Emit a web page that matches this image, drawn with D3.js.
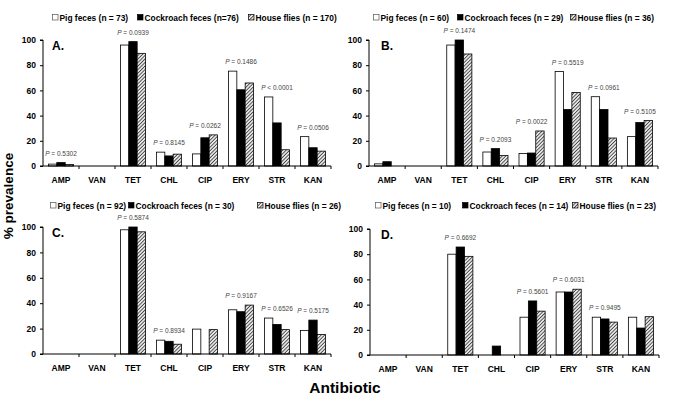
<!DOCTYPE html>
<html>
<head>
<meta charset="utf-8">
<script src="https://cdn.jsdelivr.net/npm/d3@7/dist/d3.min.js"></script>
<style>
  html, body { margin: 0; padding: 0; background: #fff; }
  svg { display: block; font-family: "Liberation Sans", Arial, sans-serif; }
</style>
</head>
<body>
<svg id="chart" width="685" height="415"></svg>
<script>
// ---------- DATA ----------
const categories = ["AMP", "VAN", "TET", "CHL", "CIP", "ERY", "STR", "KAN"];
const seriesKeys = ["pig", "cockroach", "flies"];
const yTicks = [0, 20, 40, 60, 80, 100];
const panelLetters = ["A.", "B.", "C.", "D."];

const legendA = ["Pig feces (n = 73)", "Cockroach feces (n=76)", "House flies (n = 170)"];
const legendB = ["Pig feces (n = 60)", "Cockroach feces (n = 29)", "House flies (n = 36)"];
const legendC = ["Pig feces (n = 92)", "Cockroach feces (n = 30)", "House flies (n = 26)"];
const legendD = ["Pig feces (n = 10)", "Cockroach feces (n = 14)", "House flies (n = 23)"];

const pigA   = [1.5, 0, 96.0, 11.0, 9.6, 75.3, 54.8, 23.3];
const cockA  = [2.7, 0, 98.7, 8.0, 22.4, 60.5, 34.2, 14.5];
const fliesA = [1.2, 0, 89.4, 9.4, 24.7, 65.9, 12.9, 11.8];
const pA     = ["= 0.5302", null, "= 0.0939", "= 0.8145", "= 0.0262", "= 0.1486", "< 0.0001", "= 0.0506"];

const pigB   = [1.7, 0, 96.0, 11.1, 10.0, 75.0, 55.0, 23.3];
const cockB  = [3.4, 0, 100, 13.8, 10.3, 44.8, 44.8, 34.5];
const fliesB = [0, 0, 88.9, 8.3, 27.8, 58.3, 22.2, 36.1];
const pB     = [null, null, "= 0.1474", "= 0.2093", "= 0.0022", "= 0.5519", "= 0.0961", "= 0.5105"];

const pigC   = [0, 0, 97.8, 10.9, 19.6, 34.8, 28.3, 18.5];
const cockC  = [0, 0, 100, 10.0, 0, 33.3, 23.3, 26.7];
const fliesC = [0, 0, 96.2, 7.7, 19.2, 38.5, 19.2, 15.4];
const pC     = [null, null, "= 0.5874", "= 0.8934", null, "= 0.9167", "= 0.6526", "= 0.5175"];

const pigD   = [0, 0, 80.0, 0, 30.0, 50.0, 30.0, 30.0];
const cockD  = [0, 0, 85.7, 7.1, 42.9, 50.0, 28.6, 21.4];
const fliesD = [0, 0, 78.3, 0, 34.8, 52.2, 26.1, 30.4];
const pD     = [null, null, "= 0.6692", null, "= 0.5601", "= 0.6031", "= 0.9495", null];

// ---------- LAYOUT ----------
const panels = [
  { pig: pigA, cock: cockA, flies: fliesA, p: pA, legend: legendA, letter: panelLetters[0],
    x0: 43, x1: 331, yTop: 40, yBot: 166, legendY: 21, legendX: [52, 137, 248], letterX: 52 },
  { pig: pigB, cock: cockB, flies: fliesB, p: pB, legend: legendB, letter: panelLetters[1],
    x0: 369, x1: 658, yTop: 40, yBot: 166, legendY: 21, legendX: [373, 457, 570], letterX: 381 },
  { pig: pigC, cock: cockC, flies: fliesC, p: pC, legend: legendC, letter: panelLetters[2],
    x0: 43, x1: 331, yTop: 227, yBot: 354, legendY: 209, legendX: [50, 128, 257], letterX: 52 },
  { pig: pigD, cock: cockD, flies: fliesD, p: pD, legend: legendD, letter: panelLetters[3],
    x0: 370, x1: 659, yTop: 229, yBot: 355, legendY: 209, legendX: [375, 462, 572], letterX: 381 }
];

const svg = d3.select("#chart");

// hatch pattern
const defs = svg.append("defs");
const pat = defs.append("pattern")
  .attr("id", "hatch").attr("patternUnits", "userSpaceOnUse")
  .attr("width", 2.5).attr("height", 2.5)
  .attr("patternTransform", "rotate(45)");
pat.append("rect").attr("width", 2.5).attr("height", 2.5).attr("fill", "#e6e6e6");
pat.append("line").attr("x1", 0).attr("y1", 0).attr("x2", 0).attr("y2", 2.5)
  .attr("stroke", "#222").attr("stroke-width", 1.4);

const fills = { pig: "#ffffff", cockroach: "#000000", flies: "url(#hatch)" };

panels.forEach(P => {
  const g = svg.append("g");
  const x = d3.scaleBand().domain(categories).range([P.x0, P.x1]).paddingInner(0).paddingOuter(0);
  const x1 = d3.scaleBand().domain(seriesKeys).range([5.5, x.bandwidth() - 5.5]).padding(0);
  const y = d3.scaleLinear().domain([0, 100]).range([P.yBot, P.yTop]);

  const rows = categories.map((c, i) => ({
    cat: c, pig: P.pig[i], cockroach: P.cock[i], flies: P.flies[i], p: P.p[i]
  }));

  // bars
  const grp = g.selectAll("g.cat").data(rows).enter().append("g")
    .attr("transform", d => `translate(${x(d.cat)},0)`);
  grp.selectAll("rect")
    .data(d => seriesKeys.map(k => ({ key: k, v: d[k] })).filter(e => e.v > 0))
    .enter().append("rect")
    .attr("x", d => x1(d.key))
    .attr("y", d => y(d.v))
    .attr("width", x1.bandwidth())
    .attr("height", d => y(0) - y(d.v))
    .attr("fill", d => fills[d.key])
    .attr("stroke", "#000").attr("stroke-width", 0.8);

  // p labels
  rows.filter(d => d.p).forEach(d => {
    const mx = d3.max(seriesKeys, k => d[k]);
    const t = g.append("text")
      .attr("x", x(d.cat) + x.bandwidth() / 2)
      .attr("y", y(mx) - 7)
      .attr("text-anchor", "middle")
      .attr("font-size", 6.5)
      .attr("fill", "#444");
    t.append("tspan").attr("font-style", "italic").text("P");
    t.append("tspan").text(" " + d.p);
  });

  // y axis
  const ya = g.append("g").attr("transform", `translate(${P.x0},0)`)
    .call(d3.axisLeft(y).tickValues(yTicks).tickSize(3).tickPadding(4));
  ya.select(".domain").attr("stroke", "#000").attr("stroke-width", 1).attr("d", `M-3,${P.yBot}H0V${P.yTop}H-3`);
  ya.selectAll(".tick line").attr("stroke", "#000");
  ya.selectAll(".tick text").attr("font-size", 8.5).attr("font-weight", "bold").attr("fill", "#000")
    .attr("font-family", "Liberation Sans, Arial, sans-serif");

  // x axis with ticks between categories
  const xa = g.append("g").attr("transform", `translate(0,${P.yBot})`);
  xa.append("line").attr("x1", P.x0).attr("x2", P.x1).attr("y1", 0).attr("y2", 0)
    .attr("stroke", "#000").attr("stroke-width", 1);
  xa.selectAll("line.tk").data(categories).enter().append("line")
    .attr("x1", d => x(d) + x.bandwidth()).attr("x2", d => x(d) + x.bandwidth())
    .attr("y1", 0).attr("y2", 3).attr("stroke", "#000");
  xa.selectAll("text").data(categories).enter().append("text")
    .attr("x", d => x(d) + x.bandwidth() / 2).attr("y", 17)
    .attr("text-anchor", "middle").attr("font-size", 8.5).attr("font-weight", "bold")
    .text(d => d);

  // panel letter
  g.append("text").attr("x", P.letterX).attr("y", P.yTop + 10)
    .attr("font-size", 12).attr("font-weight", "bold").text(P.letter);

  // legend
  seriesKeys.forEach((k, i) => {
    const lx = P.legendX[i];
    g.append("rect").attr("x", lx + 0.5).attr("y", P.legendY - 6.5)
      .attr("width", 5.5).attr("height", 5.5)
      .attr("fill", fills[k]).attr("stroke", k === "pig" ? "#555" : "#000").attr("stroke-width", 0.7);
    g.append("text").attr("x", lx + 7.5).attr("y", P.legendY)
      .attr("font-size", 8.4).attr("font-weight", "bold").text(P.legend[i]);
  });
});

// axis titles
svg.append("text")
  .attr("transform", "translate(12.5,196) rotate(-90)")
  .attr("text-anchor", "middle").attr("font-size", 13.5).attr("font-weight", "bold")
  .text("% prevalence");
svg.append("text")
  .attr("x", 345).attr("y", 393)
  .attr("text-anchor", "middle").attr("font-size", 15.5).attr("font-weight", "bold")
  .text("Antibiotic");
</script>
</body>
</html>
